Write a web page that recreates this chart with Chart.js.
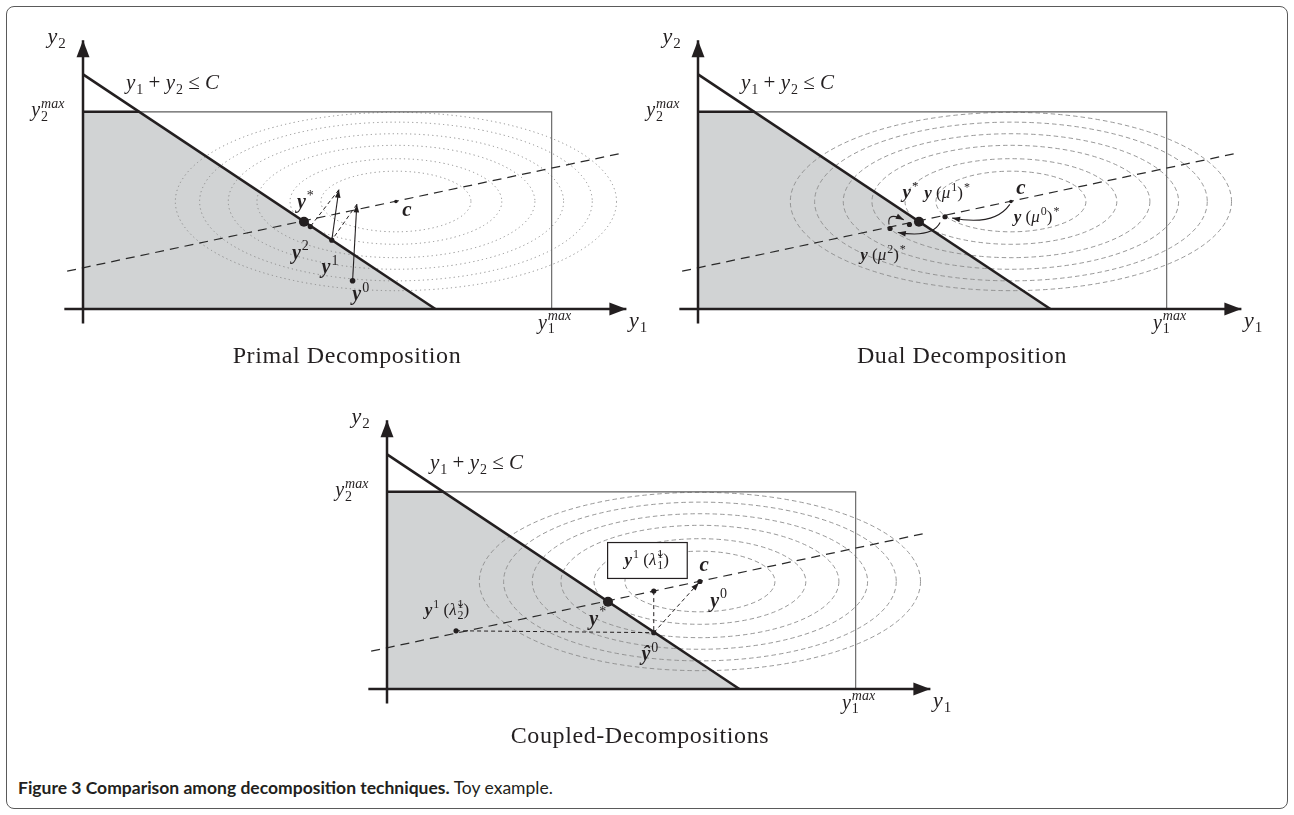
<!DOCTYPE html>
<html>
<head>
<meta charset="utf-8">
<script src="https://cdn.jsdelivr.net/npm/chart.js@4.4.1/dist/chart.umd.min.js"></script>
<style>
  body { margin: 0; background: #fff; width: 1294px; height: 815px; position: relative; overflow: hidden; }
  #frame { position: absolute; left: 6px; top: 6px; width: 1282px; height: 803px; border: 1.5px solid #5a5a5a; border-radius: 8px; box-sizing: border-box; }
  canvas { position: absolute; }
  .title { position: absolute; width: 400px; text-align: center; font-family: "Liberation Serif", serif; font-size: 24px; letter-spacing: 0.6px; line-height: 28px; color: #231f20; }
  #caption { position: absolute; left: 18px; top: 777px; font-family: Lato, sans-serif; font-size: 17.5px; line-height: 22px; color: #231f20; }
</style>
</head>
<body>
<div id="frame"></div>
<canvas id="primal" width="640" height="330" style="left:15px;top:15px"></canvas>
<canvas id="dual" width="640" height="330" style="left:630px;top:15px"></canvas>
<canvas id="coupled" width="640" height="330" style="left:319px;top:395px"></canvas>
<div class="title" style="left:147px;top:341px">Primal Decomposition</div>
<div class="title" style="left:762px;top:341px">Dual Decomposition</div>
<div class="title" style="left:440px;top:721px">Coupled-Decompositions</div>
<div id="caption"><b>Figure 3 Comparison among decomposition techniques.</b> Toy example.</div>
<script>
// ---- shared geometry (data units, C = 10) ----
const C = 10;
const Y2MAX = 8.4, Y1MAX = 13.3;
const xAxisEnds = [-0.53, 15.42];
const yAxisEnds = [-0.62, 11.45];
const cPoint = [8.88, 4.58];
const ringScale = [0.34, 0.48, 0.63, 0.76, 0.89, 1.0];
const ringRadii = [6.26, 3.8];
const guideLine = [[-0.45, 1.61], [15.2, 6.61]];

// ---- primal decomposition ----
const primalPts = [[6.27, 3.72], [6.45, 3.51], [7.06, 2.93], [7.65, 1.2], [8.88, 4.58]];
const primalSize = [5, 2.6, 2.6, 2.8, 1.8];
const primalArrows = [[[7.65, 1.2], [7.77, 4.46]], [[7.06, 2.93], [7.26, 5.08]]];
const primalProj = [[[7.77, 4.46], [7.06, 2.93]], [[7.26, 5.08], [6.45, 3.51]]];

// ---- dual decomposition ----
const dualPts = [[6.27, 3.72], [6.0, 3.6], [5.45, 3.43], [7.01, 3.93], [8.88, 4.58]];
const dualSize = [5, 2.6, 2.6, 2.6, 1.8];
const dualCurves = [
  [[8.85, 4.46], [8.41, 3.52], [7.21, 3.88]],
  [[6.87, 3.68], [6.65, 3.02], [5.67, 3.26]],
  [[5.42, 3.6], [5.36, 4.17], [5.84, 3.8]]
];

// ---- coupled decompositions ----
const coupledPts = [[6.27, 3.72], [7.57, 4.17], [7.57, 2.40], [1.96, 2.48], [8.88, 4.58]];
const coupledSize = [5, 2.6, 2.6, 2.6, 2.6];
const coupledProj = [[[7.57, 4.17], [7.57, 2.40]], [[1.96, 2.48], [7.57, 2.40]]];
const coupledDashArrows = [[[7.57, 2.40], [8.85, 4.53]]];
const coupledBox = [[6.26, 4.71], [8.52, 6.24]];

// labels: [x, y, size, parts]   part = [text, font, sup, sub]
const commonLabels = [
  [-0.75, 11.61, 22, [['y', 'i', null, '2']]],
  [15.75, -0.5, 22, [['y', 'i', null, '1']]],
  [2.54, 9.63, 21, [['y', 'i', null, '1'], [' + ', 'r'], ['y', 'i', null, '2'], [' \u2264 ', 'r'], ['C', 'i']]],
  [-1.0, 8.47, 20, [['y', 'i', 'max', '2']]],
  [13.38, -0.58, 20, [['y', 'i', 'max', '1']]]
];
const primalLabels = [
  [6.31, 4.55, 20, [['y', 'bi', '*']]],
  [6.17, 2.40, 20, [['y', 'bi', '2']]],
  [7.01, 1.78, 20, [['y', 'bi', '1']]],
  [7.88, 0.62, 20, [['y', 'bi', '0']]],
  [9.19, 4.21, 21, [['c', 'bi']]]
];
const dualLabels = [
  [6.03, 4.96, 19, [['y', 'bi', '*']]],
  [7.07, 4.96, 17, [['y', 'bi'], [' (', 'r'], ['\u03bc', 'i', '1'], [')', 'r', '*']]],
  [9.16, 5.17, 21, [['c', 'bi']]],
  [9.61, 3.93, 17, [['y', 'bi'], [' (', 'r'], ['\u03bc', 'i', '0'], [')', 'r', '*']]],
  [5.25, 2.31, 17, [['y', 'bi'], [' (', 'r'], ['\u03bc', 'i', '2'], [')', 'r', '*']]]
];
const coupledLabels = [
  [7.37, 5.5, 17, [['y', 'bi', '1'], [' (', 'r'], ['\u03bb\u0306', 'i', '1', '1'], [')', 'r']]],
  [9.0, 5.29, 21, [['c', 'bi']]],
  [9.41, 3.76, 20, [['y', 'bi', '0']]],
  [5.98, 3.0, 20, [['y', 'bi', '*']]],
  [7.46, 1.49, 20, [['\u0177', 'bi', '0']]],
  [1.70, 3.35, 17, [['y', 'bi', '1'], [' (', 'r'], ['\u03bb\u0306', 'i', '1', '2'], [')', 'r']]]
];

const INK = '#231f20';
const fontOf = (f, s) => ({ i: 'italic ', bi: 'italic bold ', r: '', b: 'bold ' }[f]) + s + 'px "Liberation Serif", serif';
const scriptFont = (t, s) => (/[a-z]/.test(t) ? 'italic ' : '') + s + 'px "Liberation Serif", serif';

function drawMath(ctx, px, py, size, parts) {
  const small = Math.round(size * 0.68);
  const widths = parts.map(([t, f, sup, sub]) => {
    ctx.font = fontOf(f, size);
    const bw = ctx.measureText(t).width;
    let sw = 0;
    if (sup) { ctx.font = scriptFont(sup, small); sw = Math.max(sw, ctx.measureText(sup).width); }
    if (sub) { ctx.font = scriptFont(sub, small); sw = Math.max(sw, ctx.measureText(sub).width); }
    return [bw, sw];
  });
  const total = widths.reduce((a, [b, s]) => a + b + (s ? s + 1 : 0), 0);
  let x = px - total / 2;
  const base = py + size * 0.3;
  ctx.fillStyle = INK;
  ctx.textBaseline = 'alphabetic';
  ctx.textAlign = 'left';
  parts.forEach(([t, f, sup, sub], i) => {
    ctx.font = fontOf(f, size);
    ctx.fillText(t, x, base);
    x += widths[i][0];
    if (sup) { ctx.font = scriptFont(sup, small); ctx.fillText(sup, x + 1, base - size * 0.42); }
    if (sub) { ctx.font = scriptFont(sub, small); ctx.fillText(sub, x + 1, base + size * 0.22); }
    if (widths[i][1]) x += widths[i][1] + 1;
  });
}

function arrowHead(ctx, x0, y0, x1, y1, len, half) {
  const a = Math.atan2(y1 - y0, x1 - x0);
  ctx.beginPath();
  ctx.moveTo(x1, y1);
  ctx.lineTo(x1 - len * Math.cos(a) + half * Math.sin(a), y1 - len * Math.sin(a) - half * Math.cos(a));
  ctx.lineTo(x1 - len * Math.cos(a) - half * Math.sin(a), y1 - len * Math.sin(a) + half * Math.cos(a));
  ctx.closePath();
  ctx.fill();
}

const pts = arr => arr.map(([x, y]) => ({ x, y }));

function line(data, width, color, dash, order) {
  return { data: pts(data), showLine: true, borderColor: color, borderWidth: width, borderDash: dash || [],
           pointRadius: 0, fill: false, order: order || 1, tension: 0 };
}

function makePanel(id, cfg) {
  const datasets = [
    { label: 'feasible', data: pts([[0, Y2MAX], [C - Y2MAX, Y2MAX], [C, 0]]), showLine: true, fill: 'origin',
      backgroundColor: '#d1d3d4', borderWidth: 0, pointRadius: 0, order: 100 },
    line([[0, Y2MAX], [Y1MAX, Y2MAX], [Y1MAX, 0]], 1.1, '#5e5e5e', null, 50),
    line(guideLine, 1.2, '#2a2a2a', [9, 6], 40),
    line([[0, Y2MAX], [C - Y2MAX, Y2MAX]], 2.5, INK, null, 5),
    line([[0, C], [C, 0]], 2.6, INK, null, 5),
    line([[xAxisEnds[0], 0], [xAxisEnds[1], 0]], 2.5, INK, null, 4),
    line([[0, yAxisEnds[0]], [0, yAxisEnds[1]]], 2.5, INK, null, 4)
  ];
  (cfg.proj || []).forEach(s => datasets.push(line(s, 1, INK, [4, 3], 3)));
  (cfg.dashArrows || []).forEach(s => datasets.push(line(s, 1, INK, [4, 3], 3)));
  (cfg.arrows || []).forEach(s => datasets.push(line(s, 1.1, INK, null, 3)));
  datasets.push({ data: pts(cfg.points), showLine: false, pointRadius: cfg.sizes, pointBackgroundColor: INK,
                  pointBorderWidth: 0, order: 0 });

  const decor = {
    id: 'decor',
    afterDatasetDraw(chart, args) {
      if (chart.data.datasets[args.index].label !== 'feasible') return;
      const ctx = chart.ctx, xs = chart.scales.x, ys = chart.scales.y;
      const cx = xs.getPixelForValue(cPoint[0]), cy = ys.getPixelForValue(cPoint[1]);
      ctx.save();
      ctx.strokeStyle = cfg.dotted ? '#8a8a8a' : '#8c8c8c';
      ctx.lineWidth = cfg.dotted ? 1 : 0.9;
      ctx.setLineDash(cfg.dotted ? [1.2, 3.2] : [4.5, 3]);
      ringScale.forEach(k => {
        const rx = xs.getPixelForValue(cPoint[0] + ringRadii[0] * k) - cx;
        const ry = cy - ys.getPixelForValue(cPoint[1] + ringRadii[1] * k);
        ctx.beginPath();
        ctx.ellipse(cx, cy, rx, ry, 0, 0, 2 * Math.PI);
        ctx.stroke();
      });
      ctx.restore();
    },
    afterDatasetsDraw(chart) {
      const ctx = chart.ctx, xs = chart.scales.x, ys = chart.scales.y;
      const P = ([x, y]) => [xs.getPixelForValue(x), ys.getPixelForValue(y)];
      ctx.save();
      ctx.fillStyle = INK;
      ctx.strokeStyle = INK;
      // axis arrowheads
      let a = P([xAxisEnds[1] - 1, 0]), b = P([xAxisEnds[1], 0]);
      arrowHead(ctx, a[0], a[1], b[0], b[1], 17, 6.5);
      a = P([0, yAxisEnds[1] - 1]); b = P([0, yAxisEnds[1]]);
      arrowHead(ctx, a[0], a[1], b[0], b[1], 17, 6.5);
      // straight arrows
      (cfg.arrows || []).concat(cfg.dashArrows || []).forEach(([f, t]) => {
        const p0 = P(f), p1 = P(t);
        arrowHead(ctx, p0[0], p0[1], p1[0], p1[1], 8, 2.8);
      });
      // curved arrows
      ctx.lineWidth = 1.1;
      (cfg.curves || []).forEach(([f, m, t]) => {
        const p0 = P(f), pm = P(m), p1 = P(t);
        ctx.beginPath();
        ctx.moveTo(p0[0], p0[1]);
        ctx.quadraticCurveTo(pm[0], pm[1], p1[0], p1[1]);
        ctx.stroke();
        arrowHead(ctx, pm[0], pm[1], p1[0], p1[1], 8, 2.8);
      });
      // framed label
      if (cfg.box) {
        const p0 = P(cfg.box[0]), p1 = P(cfg.box[1]);
        ctx.fillStyle = '#fff';
        ctx.fillRect(p0[0], p1[1], p1[0] - p0[0], p0[1] - p1[1]);
        ctx.lineWidth = 1.2;
        ctx.strokeRect(p0[0], p1[1], p1[0] - p0[0], p0[1] - p1[1]);
      }
      commonLabels.concat(cfg.labels).forEach(([x, y, size, parts]) => {
        const p = P([x, y]);
        drawMath(ctx, p[0], p[1], size, parts);
      });
      ctx.restore();
    }
  };

  new Chart(document.getElementById(id), {
    type: 'scatter',
    data: { datasets },
    options: {
      responsive: false,
      animation: false,
      layout: { padding: 0 },
      plugins: { legend: { display: false }, tooltip: { enabled: false } },
      scales: {
        x: { type: 'linear', min: -1.788, max: 16.09, display: false },
        y: { type: 'linear', min: -1.322, max: 12.314, display: false }
      }
    },
    plugins: [decor]
  });
}

makePanel('primal', { points: primalPts, sizes: primalSize, arrows: primalArrows, proj: primalProj,
                      labels: primalLabels, dotted: true });
makePanel('dual', { points: dualPts, sizes: dualSize, curves: dualCurves, labels: dualLabels });
makePanel('coupled', { points: coupledPts, sizes: coupledSize, proj: coupledProj, dashArrows: coupledDashArrows,
                       box: coupledBox, labels: coupledLabels });
</script>
</body>
</html>
